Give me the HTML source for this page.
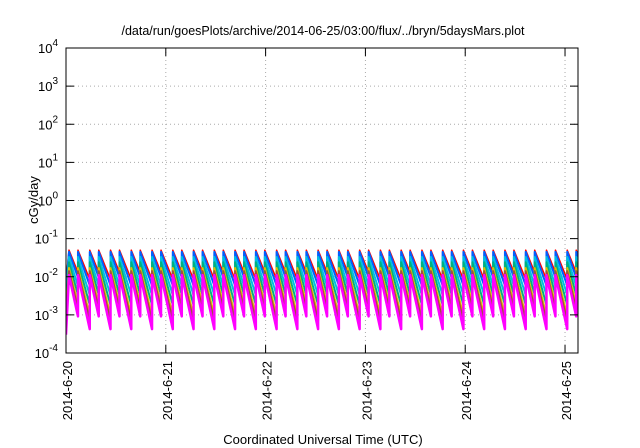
<!DOCTYPE html>
<html><head><meta charset="utf-8"><style>
body{margin:0;background:#fff}
svg{font-family:"Liberation Sans",sans-serif;display:block}
</style></head><body>
<svg id="chart" width="640" height="448">
<text x="323" y="35" font-size="12.5" text-anchor="middle">/data/run/goesPlots/archive/2014-06-25/03:00/flux/../bryn/5daysMars.plot</text>
<g id="grid"></g>
<defs><clipPath id="clip"><rect x="66" y="48" width="512" height="305"/></clipPath></defs>
<g id="series" clip-path="url(#clip)"></g>
<rect x="66" y="48" width="512" height="305" fill="none" stroke="#000" stroke-width="1"/>
<g id="axes"></g>
<text transform="translate(38,200) rotate(-90)" font-size="13" text-anchor="middle">cGy/day</text>
<text x="323" y="444" font-size="13" text-anchor="middle">Coordinated Universal Time (UTC)</text>
</svg>
<script>
const xTickLabels=["2014-6-20","2014-6-21","2014-6-22","2014-6-23","2014-6-24","2014-6-25"];
const yTickExps=[-4,-3,-2,-1,0,1,2,3,4];
const pairStarts=[0.030,0.238,0.446,0.654,0.862,1.070,1.278,1.486,1.694,1.902,2.110,2.318,2.526,2.734,2.942,3.150,3.358,3.566,3.774,3.982,4.190,4.398,4.606,4.814,5.022];
const pairGap=0.09;
const seriesNames=["red","blue","cyan","green","yellow","brown","magenta"];
const seriesColors=["#ff0000","#0060ff","#00c0e0","#00b080","#e0c000","#a05040","#ff00ff"];
const peakVals=[0.05,0.045,0.033,0.024,0.017,0.014,0.011];
const decayRates=[6.5,7.5,8.5,9.5,10.5,11,12];
const svg=document.getElementById('chart');
const NS='http://www.w3.org/2000/svg';
const X0=66,X1=578,Y0=353,Y1=48,DAYS=5.13;
const xs=d=>X0+d*(X1-X0)/DAYS;
const ys=v=>Y0-(Math.log10(v)+4)*(Y0-Y1)/8;
function mk(tag,attrs,parent){const e=document.createElementNS(NS,tag);for(const k in attrs)e.setAttribute(k,attrs[k]);parent.appendChild(e);return e;}
const grid=document.getElementById('grid'),axes=document.getElementById('axes'),ser=document.getElementById('series');
yTickExps.forEach((p,i)=>{
  const y=ys(Math.pow(10,p));
  if(i>0&&i<yTickExps.length-1){const g=mk('line',{x1:X0,x2:X1,y1:y,y2:y,stroke:'#aaa','stroke-dasharray':'1,3'},grid);
  
  }
  mk('line',{x1:X0,x2:X0+8,y1:y,y2:y,stroke:'#000'},axes);
  mk('line',{x1:X1,x2:X1-8,y1:y,y2:y,stroke:'#000'},axes);
  const t=mk('text',{x:X0-8,y:y+5,'font-size':13,'text-anchor':'end'},axes);
  
  
  t.innerHTML='10<tspan dy="-7" font-size="10">'+p+'</tspan>';
});
xTickLabels.forEach((lab,i)=>{
  const x=xs(i);
  if(i>0){const g=mk('line',{x1:x,x2:x,y1:Y0,y2:Y1,stroke:'#aaa','stroke-dasharray':'1,3'},grid);
  
  }
  mk('line',{x1:x,x2:x,y1:Y0,y2:Y0-8,stroke:'#000'},axes);
  mk('line',{x1:x,x2:x,y1:Y1,y2:Y1+8,stroke:'#000'},axes);
  const t=mk('text',{transform:`translate(${x+6},${Y0+8}) rotate(-90)`,'font-size':13,'text-anchor':'end'},axes);
  
  
  t.textContent=lab;
});
const peaks=[];pairStarts.forEach(s=>{peaks.push(s);peaks.push(s+pairGap);});
seriesNames.forEach((n,si)=>{
  const pk=peakVals[si],k=decayRates[si];
  let d='';let prevT=-0.1;
  const v0=pk*Math.pow(10,-k*(peaks[0]-prevT));
  d+=`M${xs(0)},${ys(v0)}`;
  peaks.forEach((t,i)=>{
    const vb=pk*Math.pow(10,-k*(t-prevT));
    if(i>0)d+=`L${xs(t)},${ys(vb)}`;
    d+=`L${xs(t)},${ys(pk)}`;
    prevT=t;
  });
  const tEnd=DAYS;d+=`L${xs(tEnd)},${ys(pk*Math.pow(10,-k*(tEnd-prevT)))}`;
  const p=mk('path',{d:d,fill:'none',stroke:seriesColors[si],'stroke-width':si==6?2.5:(si==0?1.5:2),'stroke-linejoin':'round'},ser);
  
  
});
</script>
</body></html>
